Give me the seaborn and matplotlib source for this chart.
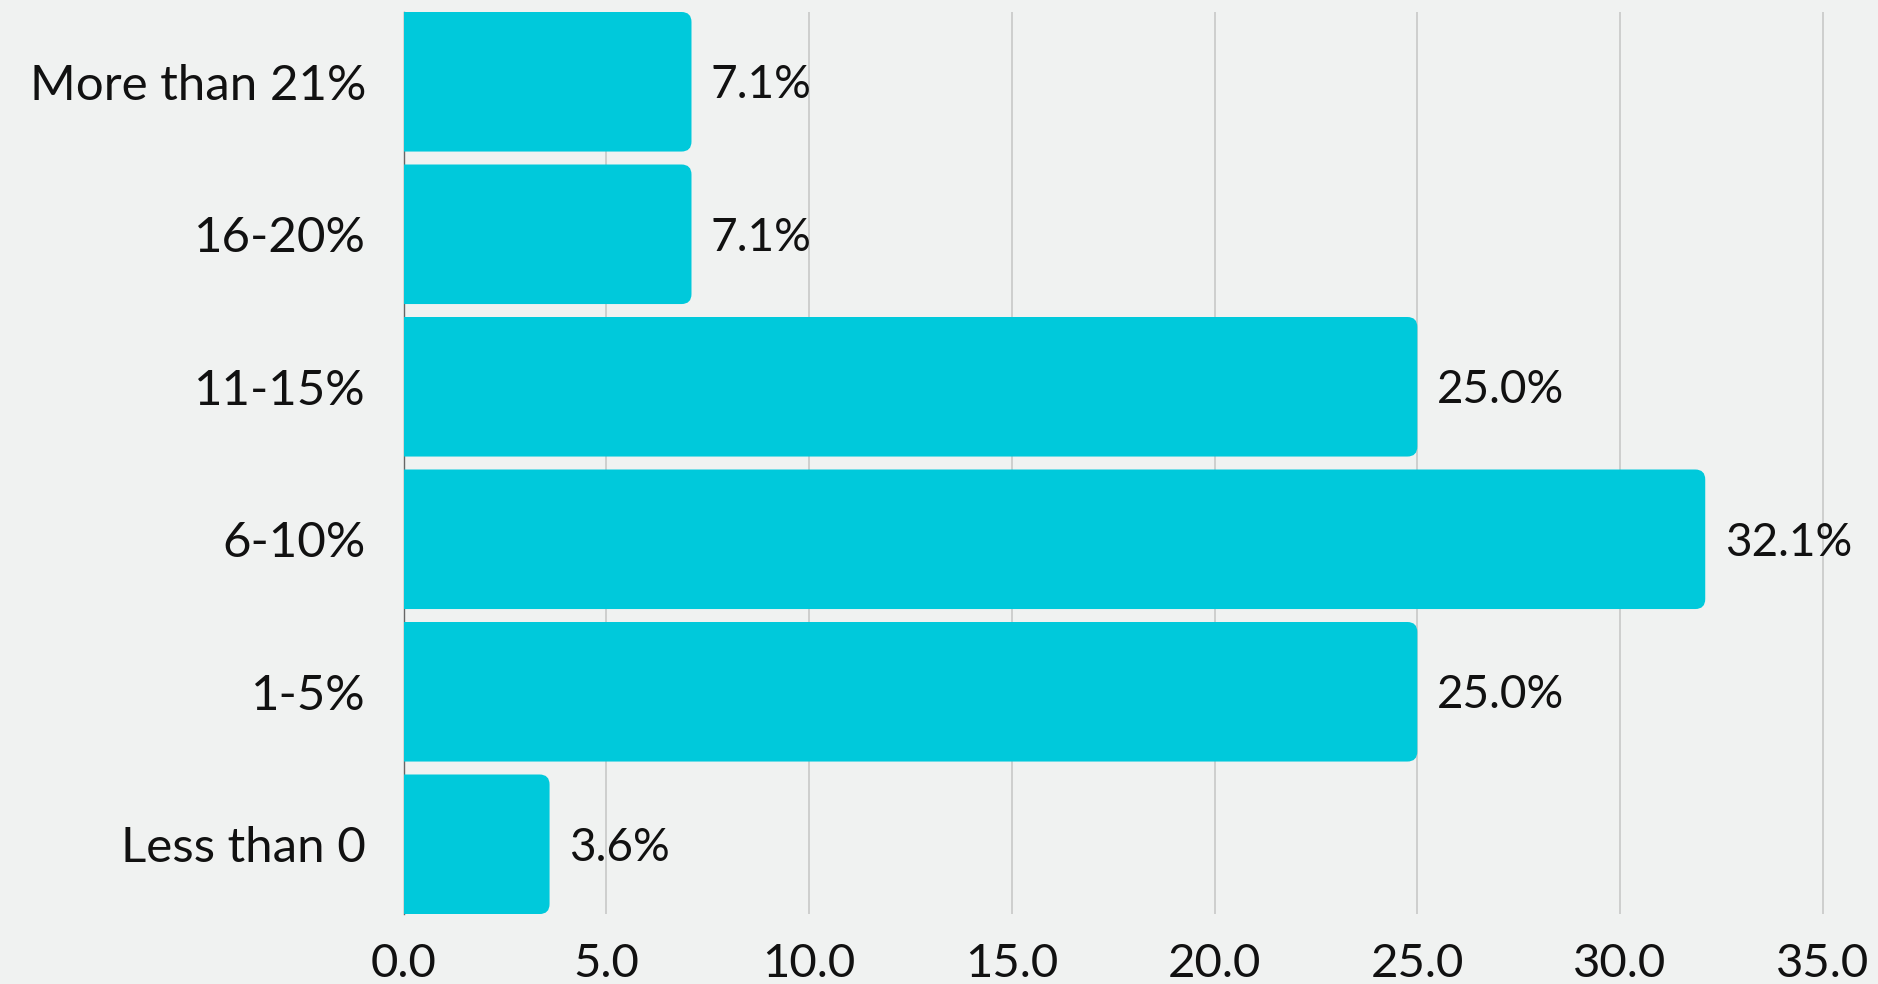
import numpy as np
import pandas as pd
import seaborn as sns
import matplotlib.pyplot as plt
from matplotlib.patches import FancyBboxPatch

# dados do grafico
categorias = ['More than 21%', '16-20%', '11-15%', '6-10%', '1-5%', 'Less than 0']
valores = [7.1, 7.1, 25.0, 32.1, 25.0, 3.6]
rotulos = ['7.1%', '7.1%', '25.0%', '32.1%', '25.0%', '3.6%']
ticks_x = [0, 5, 10, 15, 20, 25, 30, 35]

dados = pd.DataFrame({'faixa': categorias, 'valor': valores})

fundo = '#f0f2f1'
cor_barra = '#00c9db'
largura = 0.915

sns.set_style('white')
plt.rcParams['font.family'] = ['Lato', 'DejaVu Sans']

fig = plt.figure(figsize=(18.78, 9.84), dpi=100, facecolor=fundo)
ax = fig.add_axes([0.2149, 0.0711, 0.7622, 0.9167])
ax.set_facecolor(fundo)

sns.barplot(data=dados, x='valor', y='faixa', orient='h', color=cor_barra,
            saturation=1, width=largura, ax=ax)

ax.set_xlim(0, 35.3)
ax.set_ylim(len(categorias) - 1 + largura / 2, -largura / 2)

# cantos arredondados: troca os retangulos por FancyBboxPatch
raio_px = 10
bbox = ax.get_window_extent()
px_x = bbox.width / (ax.get_xlim()[1] - ax.get_xlim()[0])
px_y = bbox.height / abs(ax.get_ylim()[1] - ax.get_ylim()[0])
r = raio_px / px_x
for p in ax.patches[:len(valores)]:
    x0, y0, w, h = p.get_x(), p.get_y(), p.get_width(), p.get_height()
    p.set_visible(False)
    novo = FancyBboxPatch((x0 - 1, y0), w + 1, h,
                          boxstyle=f'round,pad=0,rounding_size={r}',
                          mutation_aspect=px_x / px_y,
                          facecolor=cor_barra, edgecolor='none', zorder=3)
    ax.add_patch(novo)

textos = ax.bar_label(ax.containers[0], labels=rotulos, padding=14,
                      fontsize=33, color='#111111')
for t in textos:
    t.xyann = (14, -2.5)

ax.set_xticks(ticks_x)
ax.set_xticklabels([f'{t:.1f}' for t in ticks_x])
ax.tick_params(axis='x', length=0, pad=21, labelsize=34, colors='#111111')
ax.tick_params(axis='y', length=0, pad=27, labelsize=35.5, colors='#111111')
ax.set_xlabel('')
ax.set_ylabel('')

ax.grid(axis='x', color='#c8c8c8', linewidth=1.2)
ax.grid(axis='y', visible=False)
ax.set_axisbelow(True)
for lado in ['top', 'right', 'bottom']:
    ax.spines[lado].set_visible(False)
ax.spines['left'].set_color('#666666')
ax.spines['left'].set_linewidth(1)
ax.spines['left'].set_zorder(2)

fig.savefig('out.png', dpi=100, facecolor=fundo)
